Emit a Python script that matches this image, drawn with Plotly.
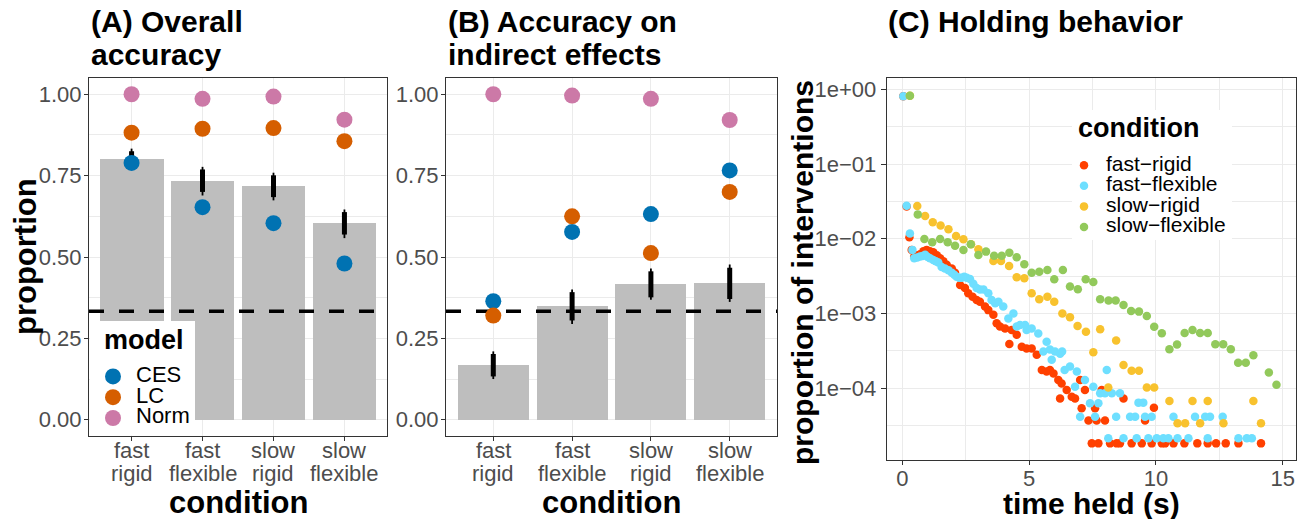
import plotly.graph_objects as go

# ---------------- data ----------------
COND_LINE1 = ["fast", "fast", "slow", "slow"]
COND_LINE2 = ["rigid", "flexible", "rigid", "flexible"]
XPOS = [1, 2, 3, 4]
CHANCE = 1 / 3

# Panel A: overall accuracy
A_BAR = [0.800, 0.733, 0.718, 0.603]
A_IN_LO = [0.775, 0.700, 0.684, 0.569]
A_IN_HI = [0.825, 0.769, 0.751, 0.638]
A_OUT_LO = [0.767, 0.689, 0.674, 0.558]
A_OUT_HI = [0.833, 0.777, 0.759, 0.646]
A_CES = [0.789, 0.653, 0.604, 0.480]
A_LC = [0.882, 0.894, 0.896, 0.856]
A_NORM = [1.000, 0.986, 0.993, 0.922]

# Panel B: accuracy on indirect effects
B_BAR = [0.168, 0.349, 0.418, 0.421]
B_IN_LO = [0.133, 0.305, 0.376, 0.371]
B_IN_HI = [0.202, 0.392, 0.456, 0.467]
B_OUT_LO = [0.125, 0.294, 0.369, 0.362]
B_OUT_HI = [0.210, 0.400, 0.465, 0.477]
B_CES = [0.364, 0.577, 0.632, 0.766]
B_LC = [0.320, 0.625, 0.512, 0.700]
B_NORM = [1.000, 0.996, 0.986, 0.921]

MODELS = ["CES", "LC", "Norm"]
MODEL_COLORS = ["#0072B2", "#D55E00", "#CC79A7"]

# Panel C: holding behaviour
FR_X = [0.04, 0.17, 0.28, 0.37, 0.47, 0.59, 0.70, 0.83, 0.96, 1.09, 1.22, 1.36, 1.49, 1.62, 1.75,
        1.95, 2.08, 2.28, 2.47, 2.60, 2.77, 2.93, 3.06, 3.26, 3.39, 3.59, 3.72, 3.85, 4.05, 4.22,
        4.31, 4.51, 4.71, 4.90, 5.10, 5.30, 5.50, 5.69, 5.82, 5.96, 6.15, 6.22, 6.28, 6.48, 6.68,
        6.81, 7.01, 7.07, 7.20, 7.34, 7.47, 7.60, 7.66, 7.73, 7.86, 7.99, 8.19, 8.45, 8.58, 8.72,
        9.04, 9.44, 9.57, 9.83, 9.92, 10.23, 10.36, 10.69, 11.12, 11.63, 12.04, 12.37, 12.75,
        13.25, 14.14]
FR_Y = [0.81, 0.027, 0.0105, 0.0071, 0.0058, 0.0060, 0.0062, 0.0068, 0.0071, 0.0068, 0.0066,
        0.0060, 0.0055, 0.0050, 0.0045, 0.0040, 0.0035, 0.0024, 0.0022, 0.00186, 0.00168, 0.00152,
        0.00144, 0.00124, 0.00111, 0.00096, 0.00074, 0.00067, 0.00063, 0.00039, 0.00060, 0.00052,
        0.00036, 0.00034, 0.00034, 0.00028, 0.000175, 0.000167, 0.000175, 0.000158, 0.000129,
        0.000073, 0.000116, 0.000095, 0.000077, 0.000073, 0.000129, 0.000054, 0.000095, 0.000037,
        0.0000183, 0.000054, 0.000037, 0.0000183, 0.000095, 0.000037, 0.0000183, 0.0000183,
        0.0000183, 0.000073, 0.0000183, 0.0000183, 0.000037, 0.0000183, 0.000055, 0.0000183,
        0.0000183, 0.0000183, 0.0000183, 0.0000183, 0.0000183, 0.0000183, 0.0000183, 0.0000183,
        0.0000183]

FF_X = [0.04, 0.17, 0.30, 0.40, 0.47, 0.59, 0.70, 0.80, 0.90, 1.00, 1.09, 1.22, 1.32, 1.42, 1.55,
        1.68, 1.82, 1.95, 2.05, 2.14, 2.24, 2.34, 2.44, 2.54, 2.67, 2.80, 2.93, 3.06, 3.20, 3.39,
        3.52, 3.66, 3.79, 3.98, 4.18, 4.38, 4.51, 4.64, 4.84, 4.90, 5.10, 5.36, 5.56, 5.69, 5.82,
        5.89, 6.02, 6.22, 6.30, 6.40, 6.61, 6.81, 6.88, 7.01, 7.20, 7.40, 7.53, 7.60, 7.73, 7.80,
        7.99, 8.06, 8.12, 8.26, 8.43, 8.58, 8.72, 8.98, 9.18, 9.24, 9.31, 9.50, 9.57, 9.70, 9.83,
        10.03, 10.29, 10.49, 10.69, 10.85, 11.28, 11.54, 11.94, 12.04, 12.13, 12.63, 13.25, 13.58,
        13.78]
FF_Y = [0.81, 0.0277, 0.0118, 0.0071, 0.0055, 0.0056, 0.0058, 0.0059, 0.0061, 0.0057, 0.0055,
        0.0052, 0.0050, 0.0048, 0.0042, 0.0040, 0.0038, 0.0035, 0.0033, 0.0031, 0.0030, 0.0030,
        0.0031, 0.0030, 0.0029, 0.0025, 0.0022, 0.0021, 0.0021, 0.00186, 0.00152, 0.00137,
        0.00144, 0.00124, 0.00086, 0.00100, 0.00067, 0.00070, 0.00070, 0.00060, 0.00063, 0.00054,
        0.00031, 0.00042, 0.00033, 0.00024, 0.00031, 0.00029, 0.00031, 0.000175, 0.000195,
        0.000105, 0.000167, 0.0000417, 0.000129, 0.0000629, 0.000105, 0.0000417, 0.0000629,
        0.0000855, 0.0000855, 0.000175, 0.0000214, 0.0000855, 0.0000417, 0.0000855, 0.0000214,
        0.0000417, 0.0000417, 0.0000214, 0.0000642, 0.0000642, 0.0000417, 0.0000214, 0.0000417,
        0.0000214, 0.0000214, 0.0000214, 0.0000417, 0.0000214, 0.0000214, 0.0000417, 0.0000417,
        0.0000214, 0.0000417, 0.0000417, 0.0000214, 0.0000214, 0.0000214]

SR_X = [0.30, 0.59, 0.90, 1.20, 1.51, 1.82, 2.12, 2.41, 2.71, 3.00, 3.59, 3.89, 4.21, 4.51, 4.81,
        5.10, 5.40, 5.72, 5.99, 6.31, 6.61, 6.91, 7.24, 7.53, 7.80, 8.12, 8.43, 8.72, 9.04, 9.33,
        9.64, 9.93, 10.53, 10.85, 11.15, 11.44, 11.74, 12.04, 12.66, 13.84, 14.14]
SR_Y = [0.82, 0.0275, 0.0202, 0.0166, 0.0150, 0.0134, 0.0109, 0.00984, 0.00844, 0.00723, 0.00504,
        0.00504, 0.00432, 0.00305, 0.00296, 0.00186, 0.00155, 0.00168, 0.00144, 0.00100, 0.000889,
        0.000681, 0.000572, 0.000303, 0.000615, 0.000102, 0.000434, 0.000205, 0.000172, 0.000172,
        0.000102, 0.000102, 0.0000676, 0.000034, 0.000034, 0.0000676, 0.000034, 0.0000676,
        0.000034, 0.0000676, 0.000034]

SF_X = [0.30, 0.61, 0.87, 1.18, 1.49, 1.79, 2.08, 2.41, 2.70, 3.00, 3.30, 3.62, 3.92, 4.22, 4.51,
        4.81, 5.10, 5.40, 5.72, 5.99, 6.33, 6.61, 6.92, 7.23, 7.53, 7.80, 8.13, 8.41, 8.72, 9.02,
        9.33, 9.64, 9.93, 10.23, 10.53, 10.83, 11.13, 11.44, 11.74, 12.04, 12.34, 12.65, 12.95,
        13.24, 13.54, 13.84, 14.45, 14.75]
SF_Y = [0.82, 0.0212, 0.00993, 0.00897, 0.00993, 0.00897, 0.00809, 0.00708, 0.00844, 0.00607,
        0.00673, 0.00594, 0.00594, 0.00652, 0.00564, 0.00455, 0.00352, 0.00363, 0.00382, 0.00287,
        0.00382, 0.00229, 0.00211, 0.00287, 0.00264, 0.00155, 0.00149, 0.00149, 0.00130, 0.00108,
        0.00106, 0.000927, 0.000667, 0.000543, 0.000332, 0.000384, 0.000549, 0.000603, 0.000549,
        0.000549, 0.000387, 0.000387, 0.000332, 0.000220, 0.000220, 0.000276, 0.000163, 0.000111]

HOLD_SERIES = [
    ("fast\u2212rigid", FR_X, FR_Y, "#FF4000"),
    ("fast\u2212flexible", FF_X, FF_Y, "#6EDFFF"),
    ("slow\u2212rigid", SR_X, SR_Y, "#F8C22E"),
    ("slow\u2212flexible", SF_X, SF_Y, "#92C95B"),
]

Y_TICKS = [0, 0.25, 0.5, 0.75, 1.0]
Y_TICKTEXT = ["0.00", "0.25", "0.50", "0.75", "1.00"]
Y_MINOR = [0.125, 0.375, 0.625, 0.875]
LOG_TICKS = [1, 1e-1, 1e-2, 1e-3, 1e-4]
LOG_TICKTEXT = ["1e+00", "1e\u221201", "1e\u221202", "1e\u221203", "1e\u221204"]
LOG_MINOR = [10 ** -0.5, 10 ** -1.5, 10 ** -2.5, 10 ** -3.5, 10 ** -4.5]
T_TICKS = [0, 5, 10, 15]
T_MINOR = [2.5, 7.5, 12.5]

# ---------------- layout helpers ----------------
W, H = 1303, 519
FONT = "Liberation Sans, Arial, Helvetica, sans-serif"
GRID = "#EBEBEB"
AXC = "#333333"
TICKC = "#4D4D4D"
CAT_RANGE = [0.4, 4.6]


def px(x):
    return x / W


def py(y):
    return 1 - y / H


def big(s, size):
    return f"<span style='font-size:{size}px'>{s}</span>"


fig = go.Figure()


def add_bar_panel(xa, ya, bar, in_lo, in_hi, out_lo, out_hi, pts, show_legend):
    fig.add_trace(go.Bar(x=XPOS, y=bar, width=0.9, marker=dict(color="#BEBEBE", line=dict(width=0)),
                         xaxis=xa, yaxis=ya, showlegend=False, hoverinfo="skip"))
    fig.add_trace(go.Scatter(x=CAT_RANGE, y=[CHANCE, CHANCE], mode="lines",
                             line=dict(color="black", width=3.5, dash="15px,15px"),
                             xaxis=xa, yaxis=ya, showlegend=False, hoverinfo="skip"))
    for lo, hi, w in ((out_lo, out_hi, 1.8), (in_lo, in_hi, 5)):
        xs, ys = [], []
        for x, a, b in zip(XPOS, lo, hi):
            xs += [x, x, None]
            ys += [a, b, None]
        fig.add_trace(go.Scatter(x=xs, y=ys, mode="lines", line=dict(color="black", width=w),
                                 xaxis=xa, yaxis=ya, showlegend=False, hoverinfo="skip"))
    for name, vals, col in zip(MODELS, pts, MODEL_COLORS):
        fig.add_trace(go.Scatter(x=XPOS, y=vals, mode="markers", name=big(name, 22),
                                 marker=dict(size=16, color=col),
                                 xaxis=xa, yaxis=ya, showlegend=show_legend, legend="legend"))


add_bar_panel("x", "y", A_BAR, A_IN_LO, A_IN_HI, A_OUT_LO, A_OUT_HI, [A_CES, A_LC, A_NORM], True)
add_bar_panel("x2", "y2", B_BAR, B_IN_LO, B_IN_HI, B_OUT_LO, B_OUT_HI, [B_CES, B_LC, B_NORM], False)

for name, xs, ys, col in HOLD_SERIES:
    fig.add_trace(go.Scatter(x=xs, y=ys, mode="markers", name=big(name, 21),
                             marker=dict(size=8.5, color=col),
                             xaxis="x3", yaxis="y3", legend="legend2"))

common = dict(showline=True, mirror=True, linecolor=AXC, linewidth=1, ticks="outside", ticklen=4,
              tickcolor=AXC, tickwidth=1, showgrid=True, gridcolor=GRID, gridwidth=1, zeroline=False,
              tickfont=dict(family=FONT, size=22, color=TICKC))

cat_x = dict(common, range=CAT_RANGE, tickvals=XPOS, showticklabels=False)
prop_y = dict(common, range=[-0.05, 1.05], tickvals=Y_TICKS, ticktext=Y_TICKTEXT, ticklabelstandoff=-2,
              minor=dict(tickvals=Y_MINOR, showgrid=True, gridcolor=GRID, gridwidth=0.6))

fig.update_layout(
    width=W, height=H, margin=dict(l=0, r=0, t=0, b=0),
    paper_bgcolor="white", plot_bgcolor="white",
    font=dict(family=FONT, color="black"),
    xaxis=dict(cat_x, domain=[px(89), px(387)], anchor="y"),
    yaxis=dict(prop_y, domain=[py(436), py(78)], anchor="x"),
    xaxis2=dict(cat_x, domain=[px(446), px(777)], anchor="y2"),
    yaxis2=dict(prop_y, domain=[py(436), py(78)], anchor="x2"),
    xaxis3=dict(common, domain=[px(886.7), px(1296)], anchor="y3", range=[-0.615, 15.52],
                tickvals=T_TICKS, ticklabelstandoff=-5,
                minor=dict(tickvals=T_MINOR, showgrid=True, gridcolor=GRID, gridwidth=0.6)),
    yaxis3=dict(common, domain=[py(460), py(78.3)], anchor="x3", type="log", range=[-4.96, 0.147],
                tickvals=LOG_TICKS, ticktext=LOG_TICKTEXT, ticklen=5,
                minor=dict(tickvals=LOG_MINOR, showgrid=True, gridcolor=GRID, gridwidth=0.6)),
    legend=dict(x=px(90), y=py(361), xanchor="left", yanchor="top", bgcolor="rgba(0,0,0,0)",
                font=dict(family=FONT, size=13.7, color="black"), itemsizing="trace", itemwidth=36),
    legend2=dict(x=px(1062), y=py(150), xanchor="left", yanchor="top", bgcolor="rgba(0,0,0,0)",
                 font=dict(family=FONT, size=13.5, color="black"), itemsizing="trace", itemwidth=34),
    bargap=0,
)

# white legend backgrounds (drawn over the panels, as in the reference)
fig.add_shape(type="rect", xref="paper", yref="paper", x0=px(90), x1=px(195), y0=py(435.5), y1=py(321),
              fillcolor="white", line=dict(width=0), layer="above")
fig.add_shape(type="rect", xref="paper", yref="paper", x0=px(1072), x1=px(1232), y0=py(240), y1=py(110),
              fillcolor="white", line=dict(width=0), layer="above")

ann = []


def text(x, y, s, size, bold=False, color="black", xanchor="center", angle=0, xref="paper"):
    ann.append(dict(x=x, y=y, xref=xref, yref="paper", text=(f"<b>{s}</b>" if bold else s),
                    showarrow=False, xanchor=xanchor, yanchor="middle", textangle=angle,
                    font=dict(family=FONT, size=size, color=color)))


# titles
text(px(89), py(22), "(A) Overall", 30, True, xanchor="left")
text(px(89), py(55), "accuracy", 30, True, xanchor="left")
text(px(446), py(22), "(B) Accuracy on", 30, True, xanchor="left")
text(px(446), py(55), "indirect effects", 30, True, xanchor="left")
text(px(886), py(22), "(C) Holding behavior", 30, True, xanchor="left")

# legend titles
text(px(102), py(340), "model", 27, True, xanchor="left")
text(px(1076), py(128), "condition", 27, True, xanchor="left")

# category tick labels (two lines each)
for xr in ("x", "x2"):
    for x, l1, l2 in zip(XPOS, COND_LINE1, COND_LINE2):
        text(x, py(450), l1, 22, color=TICKC, xref=xr)
        text(x, py(473), l2, 22, color=TICKC, xref=xr)

# axis titles
text(px(238), py(502), "condition", 31, True)
text(px(611), py(502), "condition", 31, True)
text(px(1091), py(503), "time held (s)", 30, True)
text(px(25), py(257), "proportion", 31, True, angle=-90)
text(px(802), py(273), "proportion of interventions", 30, True, angle=-90)

fig.update_layout(annotations=ann)
fig.write_html("out.html", config={"displayModeBar": False},
               post_script="document.body.style.margin='0';document.body.style.overflow='hidden';")
